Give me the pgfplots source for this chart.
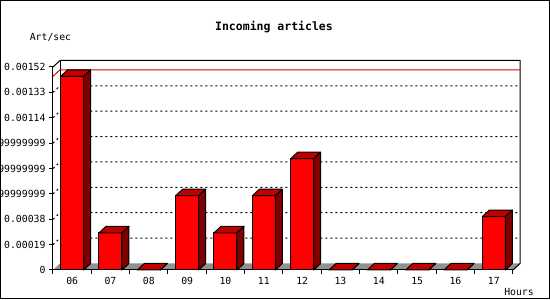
\documentclass[border=0pt]{standalone}
\usepackage{pgfplots}
\pgfplotsset{compat=1.18}
\usepackage{pgfplotstable}
\usepackage{fontspec}
\setmainfont{DejaVu Sans Mono}
\definecolor{barfront}{RGB}{255,0,0}
\definecolor{bartop}{RGB}{192,0,0}
\definecolor{barside}{RGB}{128,0,0}
\definecolor{floorgray}{RGB}{145,145,145}
\definecolor{maxred}{RGB}{220,0,0}
\pgfdeclareplotmark{empty}{}

% hour, articles per second
\pgfplotstableread{
x v
0 0.00145
1 0.000278
2 0
3 0.000556
4 0.000278
5 0.000556
6 0.000833
7 0
8 0
9 0
10 0
11 0.0004
}\hourdata

\begin{document}
\begin{tikzpicture}
\useasboundingbox (0pt,0pt) rectangle (550pt,300pt);
\clip (0pt,0pt) rectangle (550pt,300pt);
\fill[white] (0pt,0pt) rectangle (550pt,300pt);
\begin{scope}[x=1pt,y=1pt]
\draw[line width=1pt] (0.5,1.5) rectangle (549.5,299.5);
% floor of the 3D box
\fill[floorgray] (53,30) -- (513,30) -- (520,36.5) -- (60,36.5) -- cycle;
% back plane
\draw[line width=1pt] (53,233) -- (60,239.5) -- (520,239.5) -- (520,36.5) -- (513,30);
\draw[line width=1pt] (60,36.5) -- (60,239.5);
\foreach \k in {1,...,7} {
  \draw[line width=1pt, dash pattern=on 2pt off 3pt] (53,30+\k*25.375) -- (60,36.5+\k*25.375) -- (520,36.5+\k*25.375);
}
\end{scope}
\begin{axis}[
  at={(53pt,30pt)}, anchor=south west, scale only axis,
  width=460pt, height=203pt,
  xmin=-0.5, xmax=11.5, ymin=0, ymax=0.00152,
  clip=false,
  axis x line*=bottom, axis y line*=left,
  axis line style={line width=1pt, -, black},
  tick align=outside,
  major tick length=4pt, minor tick length=4pt,
  tick style={line width=1pt, black},
  scaled y ticks=false,
  ytick={0,0.00019,0.00038,0.00057,0.00076,0.00095,0.00114,0.00133,0.00152},
  yticklabels={0,0.00019,0.00038,0.00056999999999999,0.00075999999999999,0.00094999999999999,0.00114,0.00133,0.00152},
  xtick={0,...,11},
  xticklabels={06,07,08,09,10,11,12,13,14,15,16,17},
  major x tick style={draw=none},
  minor xtick={-0.5,0.5,...,11.5},
  ticklabel style={font=\fontsize{9.8}{10}\selectfont},
  point meta min=0, point meta max=0.00152,
]
\draw[maxred, line width=1pt] (axis cs:-0.5,0.00145) -- ([xshift=7pt,yshift=6.5pt]axis cs:-0.5,0.00145) -- ([xshift=7pt,yshift=6.5pt]axis cs:11.5,0.00145);
\addplot[ybar, bar width=23pt, fill=barfront, draw=black, line width=1pt] table[x=x,y=v]{\hourdata};
\addplot[scatter, only marks, mark=empty, point meta=y,
  scatter/@pre marker code/.code={%
    \pgfmathsetmacro\barH{\pgfplotspointmetatransformed*0.203}%
    \filldraw[fill=bartop, draw=black, line width=1pt, line join=round] (-11.5pt,0pt) -- (-4.5pt,6.5pt) -- (18.5pt,6.5pt) -- (11.5pt,0pt) -- cycle;
    \filldraw[fill=barside, draw=black, line width=1pt, line join=round] (11.5pt,0pt) -- (18.5pt,6.5pt) -- (18.5pt,6.5pt-\barH pt) -- (11.5pt,-\barH pt) -- cycle;
  },
  scatter/@post marker code/.code={}
] table[x=x,y=v]{\hourdata};
\end{axis}
\begin{scope}[x=1pt,y=1pt]
\node[font=\bfseries\fontsize{11.5}{12}\selectfont] at (274,273) {Incoming articles};
\node[font=\fontsize{9.8}{10}\selectfont] at (50.5,263) {Art/sec};
\node[font=\fontsize{9.8}{10}\selectfont] at (519,8) {Hours};
\end{scope}
\end{tikzpicture}
\end{document}
